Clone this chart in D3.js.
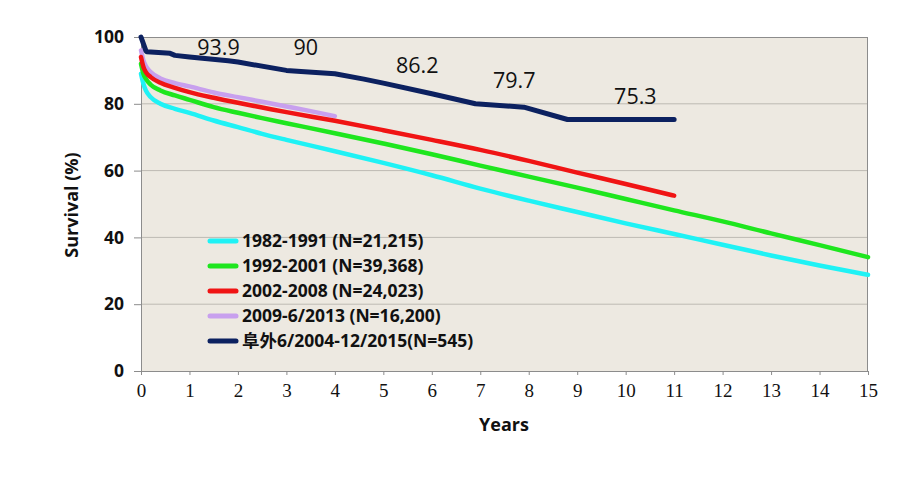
<!DOCTYPE html>
<html><head><meta charset="utf-8">
<script src="https://cdn.jsdelivr.net/npm/d3@7"></script>
<style>body{margin:0;background:#fff}svg{display:block}</style>
</head><body>
<script>
// ---- data ----
const seriesNames = ["1982-1991 (N=21,215)","1992-2001 (N=39,368)","2002-2008 (N=24,023)","2009-6/2013 (N=16,200)","阜外6/2004-12/2015(N=545)"];
const seriesColors = ["#1ff2f5","#1ee61e","#f01414","#c8a0ee","#0c2160"];
const yearsCyan  = [0,0.05,0.1,0.2,0.4,0.7,1,1.5,2,2.5,3,4,5,6,7,8,9,10,11,12,13,14,15];
const valsCyan   = [89,86,84,82,80,78.5,77.3,75,73,71,69.2,65.8,62.3,58.6,54.6,51,47.6,44.2,41,37.8,34.6,31.6,28.8];
const yearsGreen = [0,0.05,0.1,0.2,0.4,0.7,1,1.5,2,2.5,3,4,5,6,7,8,9,10,11,12,13,14,15];
const valsGreen  = [92,89,87.5,85.7,84,82.5,81.2,79,77.3,75.7,74.2,71.2,68.1,64.9,61.5,58.2,54.9,51.5,48.1,44.8,41.2,37.7,34.1];
const yearsRed   = [0,0.05,0.1,0.2,0.4,0.7,1,1.5,2,2.5,3,4,5,6,7,8,9,10,11];
const valsRed    = [94,91,89.5,88,86.3,84.8,83.5,81.8,80.3,78.9,77.5,74.9,72.1,69.2,66.2,62.9,59.4,56,52.5];
const yearsPurple= [0,0.05,0.1,0.2,0.4,0.7,1,1.5,2,2.5,3,3.5,4];
const valsPurple = [96,93,91.3,89.5,87.6,86.2,85.2,83.4,82,80.6,79.2,77.8,76.3];
const yearsNavy  = [0,0.1,0.12,0.6,0.7,1,1.8,2,3,3.3,4,4.6,5,6,6.9,7.9,8.8,9,11];
const valsNavy   = [100,95.9,95.6,95.1,94.5,94,92.9,92.5,90,89.7,89,87.4,86.2,83,80,79,75.3,75.3,75.3];
const labelYears = [1.6,3.4,5.7,7.7,10.2];
const labelVals  = [93.9,90,86.2,79.7,75.3];
const labelPosY  = [94.6,94.6,89.3,84.8,80];
const xTicks = d3.range(0,16);
const yTicks = [0,20,40,60,80,100];

const W=908,H=485;
const m={left:141,top:37,right:868,bottom:371};
const svg=d3.select("body").append("svg").attr("width",W).attr("height",H);
const x=d3.scaleLinear().domain([0,15]).range([m.left,m.right]);
const y=d3.scaleLinear().domain([0,100]).range([m.bottom,m.top]);

svg.append("rect").attr("x",m.left).attr("y",m.top).attr("width",m.right-m.left).attr("height",m.bottom-m.top).attr("fill","#ede9e1");
// gridlines
svg.append("g").selectAll("line").data(yTicks.filter(d=>d>0&&d<100)).join("line")
  .attr("x1",m.left).attr("x2",m.right).attr("y1",d=>y(d)).attr("y2",d=>y(d))
  .attr("stroke","#bdbab3").attr("stroke-width",1);
// border top & right
svg.append("line").attr("x1",m.left).attr("x2",m.right).attr("y1",m.top+0.5).attr("y2",m.top+0.5).attr("stroke","#8c8c8c");
svg.append("line").attr("x1",m.right-0.5).attr("x2",m.right-0.5).attr("y1",m.top).attr("y2",m.bottom).attr("stroke","#8c8c8c");

// axes
const yAx=svg.append("g").attr("transform",`translate(${m.left},0)`)
  .call(d3.axisLeft(y).tickValues(yTicks).tickSize(7).tickPadding(10));
yAx.select(".domain").attr("stroke","#8c8c8c");
yAx.selectAll(".tick line").attr("stroke","#8c8c8c");
yAx.selectAll("text").attr("font-family","'Open Sans',sans-serif").attr("font-weight","bold").attr("font-size",17.5).attr("fill","#111");

const xAx=svg.append("g").attr("transform",`translate(0,${m.bottom})`)
  .call(d3.axisBottom(x).tickValues(xTicks).tickSize(4).tickPadding(9));
xAx.select(".domain").attr("stroke","#8c8c8c");
xAx.selectAll(".tick line").attr("stroke","#8c8c8c");
xAx.selectAll("text").attr("font-family","'Liberation Serif',serif").attr("font-size",19).attr("fill","#111");

svg.append("text").attr("x",504).attr("y",431).attr("text-anchor","middle")
  .attr("font-family","'Open Sans',sans-serif").attr("font-weight","bold").attr("font-size",18).attr("fill","#111").text("Years");
svg.append("text").attr("transform","translate(78,205) rotate(-90)").attr("text-anchor","middle")
  .attr("font-family","'Open Sans',sans-serif").attr("font-weight","bold").attr("font-size",18).attr("fill","#111").text("Survival (%)");

// lines
const series=[[yearsCyan,valsCyan],[yearsGreen,valsGreen],[yearsRed,valsRed],[yearsPurple,valsPurple],[yearsNavy,valsNavy]];
const smooth=d3.line().x(d=>x(d[0])).y(d=>y(d[1])).curve(d3.curveMonotoneX);
const straight=d3.line().x(d=>x(d[0])).y(d=>y(d[1]));
const order=[3,0,1,2,4];
order.forEach(i=>{
  const pts=series[i][0].map((t,j)=>[t,series[i][1][j]]);
  svg.append("path").attr("d",(i===4?straight:smooth)(pts)).attr("fill","none")
    .attr("stroke",seriesColors[i]).attr("stroke-width",i===4?5:4.5)
    .attr("stroke-linecap","round").attr("stroke-linejoin","round");
});

// value labels
svg.append("g").selectAll("text").data(labelVals).join("text")
  .attr("x",(d,i)=>x(labelYears[i])).attr("y",(d,i)=>y(labelPosY[i]))
  .attr("text-anchor","middle").attr("font-family","'Open Sans',sans-serif").attr("font-size",21.5).attr("fill","#111")
  .text(d=>d);

// legend
const lg=svg.append("g");
seriesNames.forEach((n,i)=>{
  const cy=241+i*25;
  lg.append("line").attr("x1",210).attr("x2",236).attr("y1",cy).attr("y2",cy)
    .attr("stroke",seriesColors[i]).attr("stroke-width",5).attr("stroke-linecap","round");
  lg.append("text").attr("x",242).attr("y",cy).attr("dy","0.36em")
    .attr("font-family","'Open Sans','Noto Sans CJK SC',sans-serif").attr("font-weight","bold").attr("font-size",17.5).attr("fill","#111")
    .text(n);
});
</script>
</body></html>
